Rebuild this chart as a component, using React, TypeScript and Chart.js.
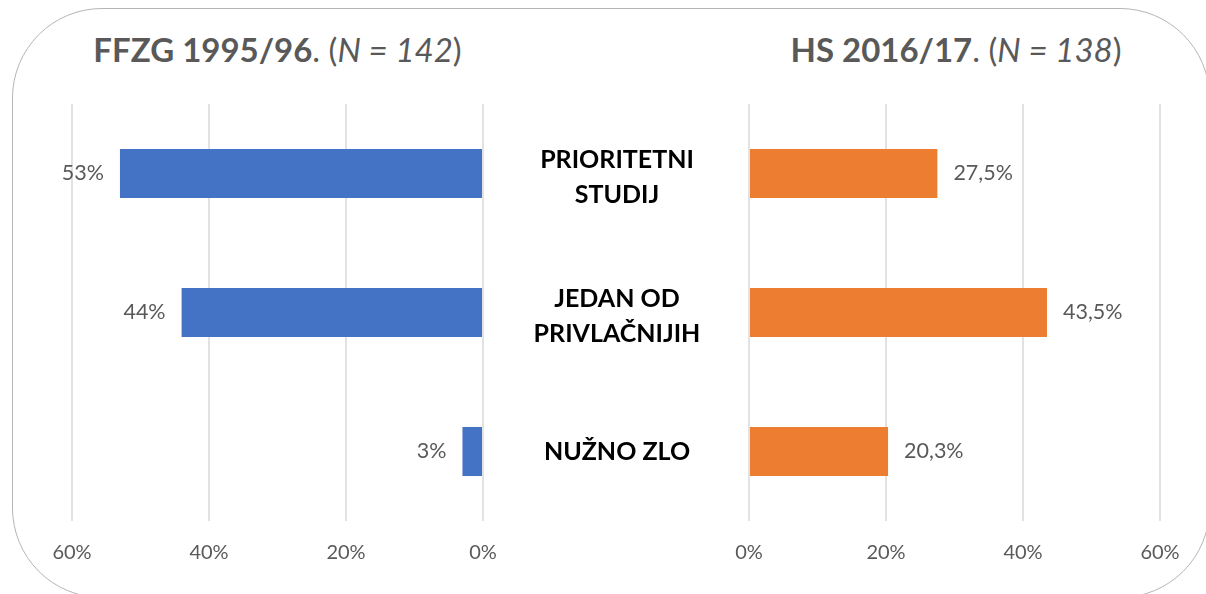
import React, { useEffect, useRef } from "react";
import { Chart, registerables } from "chart.js";

Chart.register(...registerables);

// ---- data ----
const categories: string[][] = [["PRIORITETNI", "STUDIJ"], ["JEDAN OD", "PRIVLAČNIJIH"], ["NUŽNO ZLO"]];
const leftValues = [53, 44, 3];
const rightValues = [27.5, 43.5, 20.3];
const leftValueLabels = ["53%", "44%", "3%"];
const rightValueLabels = ["27,5%", "43,5%", "20,3%"];
const axisTicks = [0, 20, 40, 60];
const leftTitleBold = "FFZG 1995/96";
const leftTitleN = "N = 142";
const rightTitleBold = "HS 2016/17";
const rightTitleN = "N = 138";

const FONT = "Lato, 'Open Sans', 'DejaVu Sans', sans-serif";
const GRAY = "#595959";
const CANVAS_H = 511;

const valueLabelPlugin = {
  id: "valueLabels",
  afterDatasetsDraw(chart: any, _args: any, opts: any) {
    const ctx = chart.ctx;
    const meta = chart.getDatasetMeta(0);
    ctx.save();
    ctx.font = `${opts.size}px ${FONT}`;
    ctx.fillStyle = GRAY;
    ctx.textBaseline = "middle";
    meta.data.forEach((bar: any, i: number) => {
      if (opts.side === "left") {
        ctx.textAlign = "right";
        ctx.fillText(opts.labels[i], bar.x - opts.gap, bar.y);
      } else {
        ctx.textAlign = "left";
        ctx.fillText(opts.labels[i], bar.x + opts.gap, bar.y);
      }
    });
    ctx.restore();
  },
};

const categoryLabelPlugin = {
  id: "categoryLabels",
  afterDraw(chart: any, _args: any, opts: any) {
    if (!opts || !opts.enabled) return;
    const ctx = chart.ctx;
    const yScale = chart.scales.y;
    ctx.save();
    ctx.font = `bold ${opts.size}px ${FONT}`;
    ctx.fillStyle = "#000000";
    ctx.textAlign = "center";
    ctx.textBaseline = "middle";
    categories.forEach((lines, i) => {
      const yc = yScale.getPixelForValue(i) + (lines.length > 1 ? opts.shift : 0);
      const start = yc - ((lines.length - 1) * opts.lineHeight) / 2;
      lines.forEach((ln, k) => {
        ctx.fillText(ln, opts.centerX, start + k * opts.lineHeight);
      });
    });
    ctx.restore();
  },
};

function makeConfig(side: "left" | "right") {
  const values = side === "left" ? leftValues : rightValues;
  const color = side === "left" ? "#4472C4" : "#ED7D31";
  return {
    type: "bar",
    data: {
      labels: categories.map((c) => c.join(" ")),
      datasets: [
        {
          data: values,
          backgroundColor: color,
          borderWidth: 0,
          barPercentage: 0.353,
          categoryPercentage: 1,
        },
      ],
    },
    options: {
      indexAxis: "y",
      responsive: false,
      animation: false,
      devicePixelRatio: 1,
      layout: {
        padding:
          side === "left"
            ? { left: 40, right: 40, top: 20, bottom: 10 }
            : { left: 266, right: 40, top: 20, bottom: 10 },
      },
      plugins: {
        legend: { display: false },
        tooltip: { enabled: false },
        title: { display: false },
        valueLabels: {
          side,
          labels: side === "left" ? leftValueLabels : rightValueLabels,
          gap: 16,
          size: 21.5,
        },
        categoryLabels: {
          enabled: side === "right",
          centerX: 617 - 483,
          lineHeight: 35,
          shift: 4,
          size: 25,
        },
      },
      scales: {
        x: {
          type: "linear",
          position: "bottom",
          reverse: side === "left",
          min: 0,
          max: 60,
          afterBuildTicks: (scale: any) => {
            scale.ticks = axisTicks.map((v) => ({ value: v }));
          },
          ticks: {
            callback: (v: any) => `${v}%`,
            color: GRAY,
            font: { family: FONT, size: 20 },
            padding: 20,
            maxRotation: 0,
          },
          grid: {
            color: "#e2e2e2",
            lineWidth: 2,
            drawTicks: false,
          },
          border: { display: false },
        },
        y: {
          type: "category",
          display: false,
          grid: { display: false },
        },
      },
    },
    plugins: [valueLabelPlugin, categoryLabelPlugin],
  } as any;
}

function BarPanel(props: { side: "left" | "right"; left: number; width: number }) {
  const ref = useRef<HTMLCanvasElement | null>(null);
  useEffect(() => {
    if (!ref.current) return;
    const chart = new Chart(ref.current, makeConfig(props.side));
    return () => chart.destroy();
  }, [props.side]);
  return (
    <canvas
      ref={ref}
      width={props.width}
      height={CANVAS_H}
      style={{ position: "absolute", left: props.left, top: 84, width: props.width, height: CANVAS_H }}
    />
  );
}

function Title(props: { center: number; bold: string; n: string }) {
  return (
    <div
      style={{
        position: "absolute",
        left: props.center - 300,
        width: 600,
        top: 30,
        textAlign: "center",
        fontFamily: FONT,
        fontSize: 33,
        lineHeight: "38px",
        color: GRAY,
        whiteSpace: "nowrap",
      }}
    >
      <span style={{ fontWeight: 700 }}>{props.bold}</span>
      <span>. (</span>
      <span style={{ fontStyle: "italic" }}>{props.n}</span>
      <span>)</span>
    </div>
  );
}

export default function App() {
  return (
    <div
      style={{
        position: "fixed",
        left: 0,
        top: 0,
        width: 1206,
        height: 594,
        background: "#ffffff",
        overflow: "hidden",
      }}
    >
      <div
        style={{
          position: "absolute",
          left: 12,
          top: 8,
          width: 1198,
          height: 590,
          boxSizing: "border-box",
          border: "1.5px solid #b5b5b5",
          borderRadius: 90,
        }}
      />
      <Title center={277.5} bold={leftTitleBold} n={leftTitleN} />
      <Title center={956} bold={rightTitleBold} n={rightTitleN} />
      <BarPanel side="left" left={32} width={491} />
      <BarPanel side="right" left={483} width={717} />
    </div>
  );
}
